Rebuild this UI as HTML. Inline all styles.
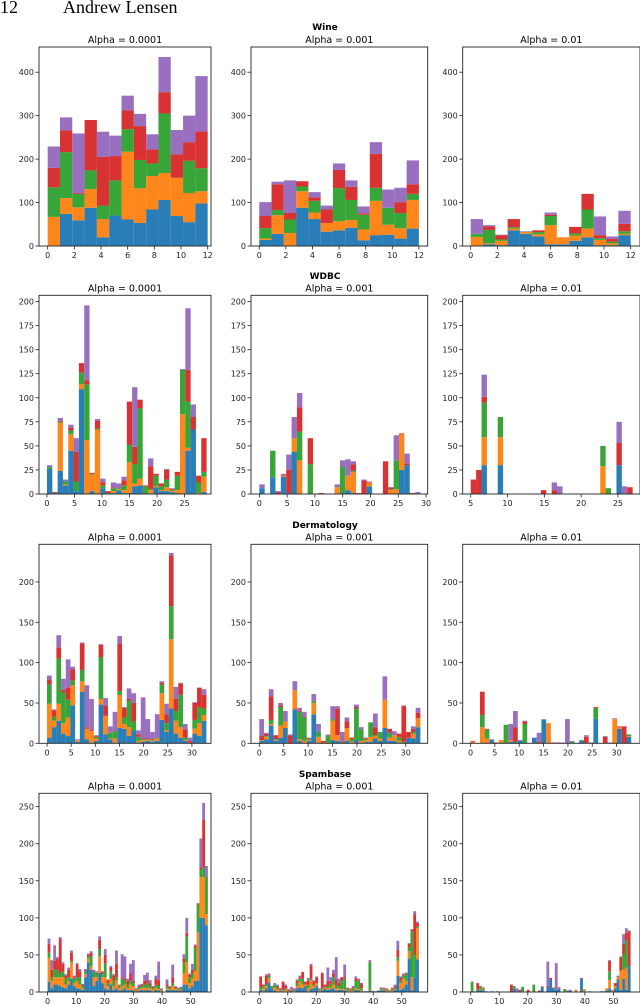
<!DOCTYPE html>
<html><head><meta charset="utf-8">
<style>
html,body{margin:0;padding:0;background:#fff;}
svg{display:block;}
</style></head>
<body>
<svg id="fig" width="640" height="1004" viewBox="0 0 640 1004" xmlns="http://www.w3.org/2000/svg">
<text x="0" y="13" font-family="Liberation Serif, serif" font-size="18">12</text>
<text x="63" y="13" font-family="Liberation Serif, serif" font-size="18">Andrew Lensen</text>
<text x="325" y="30" text-anchor="middle" font-family="DejaVu Sans, Liberation Sans, sans-serif" font-size="9" font-weight="bold">Wine</text>
<text x="325" y="279" text-anchor="middle" font-family="DejaVu Sans, Liberation Sans, sans-serif" font-size="9" font-weight="bold">WDBC</text>
<text x="325" y="528" text-anchor="middle" font-family="DejaVu Sans, Liberation Sans, sans-serif" font-size="9" font-weight="bold">Dermatology</text>
<text x="325" y="777" text-anchor="middle" font-family="DejaVu Sans, Liberation Sans, sans-serif" font-size="9" font-weight="bold">Spambase</text>
</svg>
<script>
// ---- data: cumulative stacked tops per bin [blue, orange, green, red, purple]; 0 = empty bin
const seriesColors = ['#1f77b4','#ff7f0e','#2ca02c','#d62728','#9467bd'];
const alphaLabels = ['Alpha = 0.0001','Alpha = 0.001','Alpha = 0.01'];

const wine1 = [[0,67,135,180,229],[74,110,216,266,296],[59,89,120,122,259],[88,131,174,290,290],[20,62,93,205,263],[70,70,151,207,254],[61,217,269,312,346],[53,133,198,276,304],[84,161,190,222,257],[106,168,305,354,435],[69,157,157,211,267],[55,122,196,239,300],[98,126,179,264,391]];
const wine2 = [[14,17,41,69,101],[28,71,83,142,148],[0,30,61,76,151],[88,126,137,149,149],[62,77,104,112,124],[33,53,53,84,93],[36,57,133,175,190],[42,60,106,136,151],[13,38,72,75,91],[25,104,134,212,239],[26,49,88,88,130],[17,41,76,101,134],[40,106,120,142,197]];
const wine3 = [[0,21,28,28,62],[4,6,37,45,48],[2,12,15,25,26],[36,40,43,62,62],[28,32,33,33,34],[22,27,32,36,36],[4,48,69,72,77],[4,20,20,20,20],[12,24,29,44,44],[20,40,84,120,120],[2,14,18,25,68],[2,6,10,16,22],[25,28,34,51,81]];

const wdbc1 = [[26,26,28,28,30],[1,1,1,2,2],[24,74,75,76,79],[9,10,13,13,15],[45,62,66,69,72],[3,3,13,44,58],[109,114,126,136,136],[0,56,114,118,196],[3,20,21,22,22],[0,67,68,76,78],[6,6,9,12,16],[0,0,1,3,3],[1,3,6,7,12],[4,5,6,6,11],[1,4,9,14,18],[1,33,51,96,96],[8,11,31,49,111],[9,16,89,98,98],[0,0,8,9,9],[0,4,5,29,37],[7,8,19,21,21],[3,4,8,11,11],[3,7,15,25,26],[2,3,4,5,6],[1,4,19,23,23],[0,83,129,129,130],[45,48,96,129,193],[67,67,67,80,93],[0,1,12,19,19],[2,18,23,58,58]];
const wdbc2 = [[6,6,6,6,10],0,[17,17,45,45,45],[0,0,0,2,3],[18,19,19,20,21],[1,1,1,25,41],[44,58,58,58,80],[0,35,65,90,105],0,[0,0,31,58,58],0,[0,0,0,1,1],0,0,[0,7,7,7,10],[1,1,28,28,35],[4,19,19,19,36],[1,23,24,31,34],[0,0,0,1,1],[0,0,0,14,15],[8,12,12,12,13],0,0,[0,0,0,34,34],[0,4,5,7,7],[0,5,35,35,61],[25,62,62,63,63],[30,30,30,32,42],[0,0,0,1,1],[0,0,0,0,2]];
const wdbc3 = [[0,0,0,15,15],[0,0,0,25,25],[30,59,95,101,124],0,0,[30,59,80,80,80],0,0,0,0,0,0,0,[0,0,0,4,4],0,[0,0,0,4,12],[0,0,0,0,8],0,0,0,0,0,0,0,[0,29,50,50,50],[0,0,6,6,6],0,[30,30,30,53,75],[0,0,0,0,8],[0,0,0,7,7]];

const derm1 = [[7,49,73,79,84],[20,28,33,41,42],[28,49,105,119,134],[12,25,63,66,80],[9,32,54,69,104],[47,72,78,92,95],[2,4,4,4,5],[64,77,91,124,125],[5,18,18,20,72],[0,15,15,16,55],[3,6,8,9,10],[48,55,107,122,123],[11,34,34,47,56],[5,6,13,13,21],[0,6,15,16,39],[19,60,65,124,133],[18,24,32,44,45],[9,20,53,55,68],[16,16,27,50,62],[1,3,8,11,16],[2,4,5,6,57],[3,4,5,6,30],[2,3,4,5,14],[3,6,7,7,36],[29,62,73,75,77],[14,16,25,36,49],[43,129,170,233,236],[12,28,40,55,70],[7,20,60,74,75],[3,4,7,17,24],[0,1,1,3,7],[12,18,29,50,51],[9,25,45,69,69],[28,35,43,60,67]];
const derm2 = [[3,4,4,9,30],[5,8,9,12,13],[22,24,29,58,67],[3,4,5,10,10],[7,22,45,47,50],[19,27,27,27,40],[0,0,0,10,11],[42,66,66,66,77],[3,5,39,40,44],[0,3,32,33,39],[3,4,5,6,7],[36,50,52,52,61],[0,8,14,14,24],[0,1,1,3,3],[0,0,10,10,11],[4,28,30,30,46],[3,10,10,43,46],[0,0,1,2,14],[3,19,19,27,32],[0,2,5,7,7],[4,4,43,45,48],[0,3,17,17,20],[2,4,5,6,7],[2,8,26,26,26],[6,9,10,20,37],[3,6,14,14,14],[19,54,54,54,83],[3,7,13,18,18],[3,10,10,10,15],[1,3,8,12,12],[0,0,2,46,47],[7,7,7,14,14],[6,12,14,18,21],[20,31,31,38,44]];
const derm3 = [[0,2,2,3,3],0,[0,20,35,64,64],[0,6,17,18,18],[4,4,4,4,5],[0,0,0,1,1],[0,4,4,4,4],[0,0,23,23,23],[2,4,4,4,24],[2,2,2,20,40],[3,3,3,3,4],[0,0,24,27,28],0,[7,7,7,7,7],[0,0,0,2,13],[29,29,29,29,30],[0,25,25,25,25],[0,0,0,1,1],[0,0,0,1,1],[0,0,0,0,1],[0,0,0,0,30],[0,0,2,2,3],0,[3,3,4,4,4],[0,0,0,8,10],[0,0,0,0,1],[31,31,44,45,45],0,[0,0,0,8,9],[0,0,0,0,1],[0,30,30,30,31],[18,20,20,21,21],[0,0,0,21,21],[8,9,11,11,11]];

const spam1 = [[14,46,53,65,72],[5,15,20,30,43],[10,20,30,42,63],[10,20,30,45,47],[8,20,25,72,74],[6,20,28,38,40],[5,10,18,22,24],[10,15,20,30,33],[18,40,42,53,56],[8,12,18,20,22],[5,15,20,37,39],[4,10,20,28,31],[3,5,8,10,11],[20,24,28,30,31],[40,45,48,50,52],[30,35,48,53,55],[8,20,27,28,30],[15,20,25,26,28],[26,48,58,70,75],[12,20,24,27,28],[5,20,38,50,58],[3,8,12,16,17],[10,18,28,33,35],[3,8,15,22,24],[5,15,20,38,56],[2,5,8,9,10],[3,8,18,20,51],[5,10,15,18,48],[2,5,10,15,18],[3,10,15,25,38],[2,8,12,15,43],[1,2,3,4,5],[2,4,6,8,10],[3,5,8,10,11],[2,6,10,15,23],[3,5,12,16,26],[2,5,8,12,16],[1,3,5,7,8],[3,6,10,18,22],[2,4,8,16,41],[1,2,3,4,5],0,[3,5,8,10,17],[2,3,5,7,8],[3,8,12,20,37],[2,4,6,7,8],[2,3,4,5,6],[2,3,5,6,7],[10,25,40,45,51],[10,40,75,80,100],[5,12,20,23,25],[8,18,25,30,38],[15,28,60,62,64],[15,80,118,119,120],[100,155,165,168,207],[100,155,168,232,255],[90,105,155,156,170]];
const spam2 = [[3,3,6,21,21],[1,5,8,10,10],[5,8,10,22,24],[13,18,22,24,25],[5,5,8,8,8],[2,6,10,10,12],[1,3,5,8,10],[1,2,3,5,5],[1,2,3,14,14],[1,3,5,8,10],[1,2,2,3,4],[2,3,3,3,7],[1,2,3,4,5],[5,8,12,15,17],[6,14,18,20,22],[5,10,18,27,27],[8,10,10,14,14],[1,5,10,15,19],[4,16,18,36,38],[5,8,10,14,16],[8,12,12,20,21],[1,2,3,4,5],[2,3,5,25,26],[4,6,7,10,10],[3,5,8,15,33],[4,6,11,14,20],[5,10,20,25,30],[2,5,10,17,47],[3,5,8,12,18],[3,4,15,20,20],[2,4,18,20,37],[1,2,4,5,6],[1,2,3,4,5],[1,2,5,6,8],[3,5,15,18,21],[2,4,16,17,18],[1,2,5,12,12],[1,1,1,1,1],[1,1,1,1,1],[2,3,40,41,43],[1,2,2,2,2],[1,1,1,1,1],[2,2,2,2,2],[2,3,5,6,6],[2,3,4,5,6],[1,2,3,4,5],[1,2,3,3,3],[1,2,3,5,6],[3,4,6,8,10],[22,42,47,56,69],[3,12,15,20,21],[5,18,22,24,25],[10,15,25,26,26],[45,55,60,65,66],[2,20,82,84,85],[20,20,50,105,109],[44,86,88,93,95]];
const spam3 = [[0,0,14,14,14],[0,1,1,1,1],[2,2,3,12,12],[3,4,7,8,8],[2,3,5,6,6],[1,1,1,1,1],0,[1,1,1,1,1],0,[1,1,1,1,1],0,0,0,0,[0,0,0,10,10],[4,4,8,8,8],[1,1,1,1,5],[1,1,1,3,3],[1,1,7,7,7],0,[0,0,0,3,3],0,[0,0,10,10,10],0,[0,0,0,2,2],[7,8,8,8,8],0,[6,6,6,8,41],[17,17,17,19,19],[5,5,5,6,6],[3,3,3,3,39],[5,7,7,7,7],0,[1,1,4,4,4],[1,1,1,2,2],[2,2,2,2,3],0,[0,3,3,3,3],0,[18,18,18,19,19],[1,4,4,4,4],0,[1,1,1,1,1],0,0,0,[1,1,1,1,1],[1,1,1,1,1],[2,5,5,5,5],[5,16,28,42,43],[1,3,3,3,3],[5,8,8,12,12],[17,20,20,20,22],[3,29,29,47,48],[18,30,50,65,78],[3,33,70,80,86],[35,35,35,82,83]];

const wineXTicks = [0,2,4,6,8,10,12];
const wineYTicks = [0,100,200,300,400];
const wdbcXTicks = [0,5,10,15,20,25,30];
const wdbcXTicks3 = [5,10,15,20,25];
const wdbcYTicks = [0,25,50,75,100,125,150,175,200];
const dermXTicks = [0,5,10,15,20,25,30];
const dermYTicks = [0,50,100,150,200];
const spamXTicks = [0,10,20,30,40,50];
const spamYTicks = [0,50,100,150,200,250];

// ---- layout (not data)
const rowBoxes = [[47,246],[295.3,494],[544.3,743.3],[793.3,992]];
const colBoxes = [[39,211],[251,427.7],[462.7,640]];
const panels = [
 {ds:'wine',row:0,col:0,data:wine1,xlim:[-0.65,12.25],ylim:[0,458],bin0:0,bw:12/13,xt:wineXTicks,yt:wineYTicks},
 {ds:'wine',row:0,col:1,data:wine2,xlim:[-0.62,12.66],ylim:[0,458],bin0:0,bw:12/13,xt:wineXTicks,yt:wineYTicks},
 {ds:'wine',row:0,col:2,data:wine3,xlim:[-0.6,12.7],ylim:[0,458],bin0:0,bw:12/13,xt:wineXTicks,yt:wineYTicks},
 {ds:'wdbc',row:1,col:0,data:wdbc1,xlim:[-1.45,29.8],ylim:[0,206.5],bin0:0,bw:29/30,xt:wdbcXTicks,yt:wdbcYTicks},
 {ds:'wdbc',row:1,col:1,data:wdbc2,xlim:[-1.5,30.3],ylim:[0,206.5],bin0:0,bw:29/30,xt:wdbcXTicks,yt:wdbcYTicks},
 {ds:'wdbc',row:1,col:2,data:wdbc3,xlim:[3.91,28.0],ylim:[0,206.5],bin0:5,bw:22/30,xt:wdbcXTicks3,yt:wdbcYTicks},
 {ds:'dermatology',row:2,col:0,data:derm1,xlim:[-1.66,33.95],ylim:[0,246.7],bin0:0,bw:33/34,xt:dermXTicks,yt:dermYTicks},
 {ds:'dermatology',row:2,col:1,data:derm2,xlim:[-1.7,34.5],ylim:[0,246.7],bin0:0,bw:33/34,xt:dermXTicks,yt:dermYTicks},
 {ds:'dermatology',row:2,col:2,data:derm3,xlim:[-1.6,34.8],ylim:[0,246.7],bin0:0,bw:33/34,xt:dermXTicks,yt:dermYTicks},
 {ds:'spambase',row:3,col:0,data:spam1,xlim:[-3.0,57.1],ylim:[0,268],bin0:0,bw:56/57,xt:spamXTicks,yt:spamYTicks},
 {ds:'spambase',row:3,col:1,data:spam2,xlim:[-2.9,59.1],ylim:[0,268],bin0:0,bw:56/57,xt:spamXTicks,yt:spamYTicks},
 {ds:'spambase',row:3,col:2,data:spam3,xlim:[-2.8,59.3],ylim:[0,268],bin0:0,bw:56/57,xt:spamXTicks,yt:spamYTicks}
];
const NS = 'http://www.w3.org/2000/svg';
const svg = document.getElementById('fig');
const FONT = 'DejaVu Sans, Liberation Sans, sans-serif';
function mk(tag, attrs, parent){
  const e = document.createElementNS(NS, tag);
  for (const k in attrs) e.setAttribute(k, attrs[k]);
  (parent||svg).appendChild(e);
  return e;
}
panels.forEach(p => {
  const [T,B] = rowBoxes[p.row];
  const [L,R] = colBoxes[p.col];
  const xs = v => L + (v - p.xlim[0]) / (p.xlim[1]-p.xlim[0]) * (R-L);
  const ys = v => B - (v - p.ylim[0]) / (p.ylim[1]-p.ylim[0]) * (B-T);
  const g = mk('g', {});
  
  
  const title = mk('text', {x:(L+R)/2, y:T-4, 'text-anchor':'middle', 'font-family':FONT, 'font-size':'9.5', fill:'#000'}, g);
  title.textContent = alphaLabels[p.col];
  
  
  const clip = 'clip' + p.row + p.col;
  const cp = mk('clipPath', {id:clip}, g);
  mk('rect', {x:L, y:T, width:R-L, height:B-T}, cp);
  const bars = mk('g', {'clip-path':'url(#'+clip+')'}, g);
  p.data.forEach((stack, i) => {
    if (!stack) return;
    const x0 = p.bin0 + i*p.bw, x1 = x0 + p.bw;
    let prev = 0;
    stack.forEach((top, s) => {
      if (top > prev) {
        const r = mk('rect', {x:xs(x0), y:ys(top), width:xs(x1)-xs(x0), height:ys(prev)-ys(top), fill:seriesColors[s], 'fill-opacity':'0.95'}, bars);
        
        
      }
      prev = Math.max(prev, top);
    });
  });
  const frame = mk('rect', {x:L, y:T, width:R-L, height:B-T, fill:'none', stroke:'#222', 'stroke-width':'0.9'}, g);
  
  
  p.xt.forEach(t => {
    const x = xs(t);
    if (x < L-0.5 || x > R+0.5) return;
    mk('line', {x1:x, x2:x, y1:B, y2:B+3.5, stroke:'#222', 'stroke-width':'0.8'}, g);
    const lb = mk('text', {x:x, y:B+12, 'text-anchor':'middle', 'font-family':FONT, 'font-size':'8', fill:'#222'}, g);
    lb.textContent = t;
    
    
  });
  p.yt.forEach(t => {
    const y = ys(t);
    mk('line', {x1:L-3.5, x2:L, y1:y, y2:y, stroke:'#222', 'stroke-width':'0.8'}, g);
    const lb = mk('text', {x:L-5, y:y+3, 'text-anchor':'end', 'font-family':FONT, 'font-size':'8', fill:'#222'}, g);
    lb.textContent = t;
    
    
  });
});
</script>
</body></html>
